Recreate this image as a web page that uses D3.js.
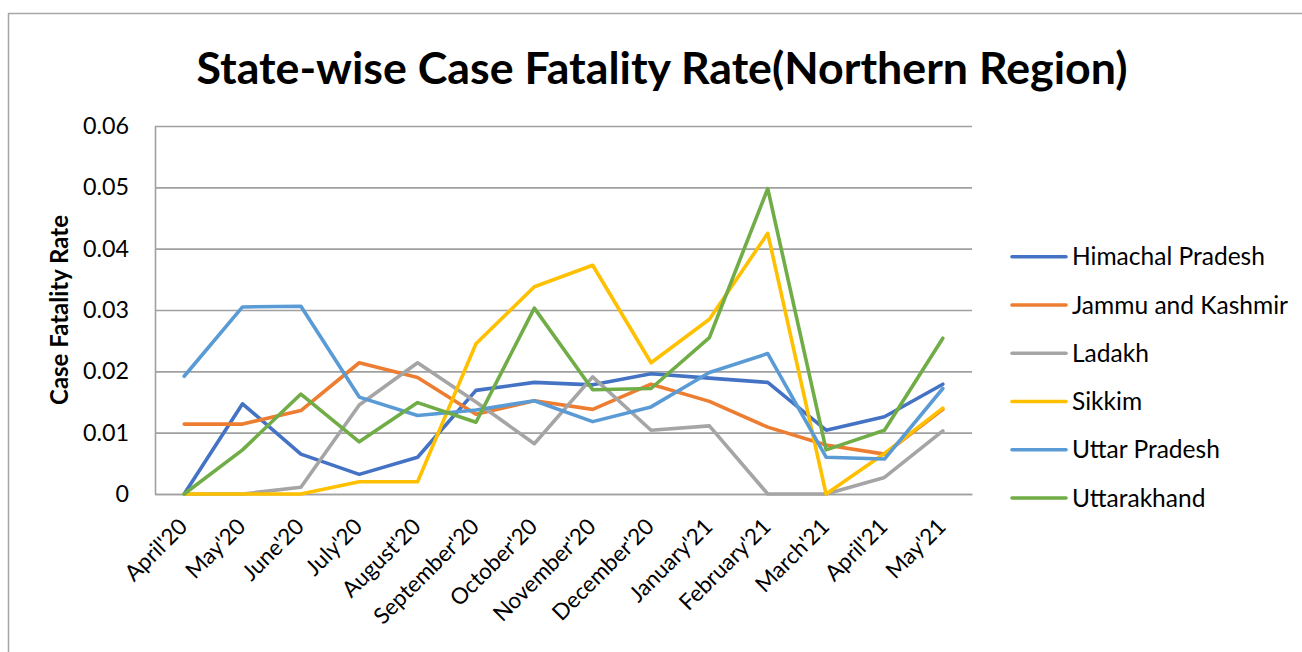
<!DOCTYPE html>
<html>
<head>
<meta charset="utf-8">
<script src="https://cdn.jsdelivr.net/npm/d3@7"></script>
<style>
  html, body { margin: 0; padding: 0; background: #fff; }
  svg { display: block; }
  text { font-family: Lato, "Open Sans", sans-serif; fill: #000; }
</style>
</head>
<body>
<svg id="chart" width="1302" height="652"></svg>
<script>
const months = ["April'20","May'20","June'20","July'20","August'20","September'20","October'20","November'20","December'20","January'21","February'21","March'21","April'21","May'21"];
const seriesNames = ["Himachal Pradesh","Jammu and Kashmir","Ladakh","Sikkim","Uttar Pradesh","Uttarakhand"];
const himachal    = [0, 0.0147, 0.0065, 0.0032, 0.0060, 0.0169, 0.0182, 0.0178, 0.0196, 0.0189, 0.0182, 0.0104, 0.0126, 0.0179];
const jammu       = [0.0114, 0.0114, 0.0136, 0.0214, 0.0190, 0.0130, 0.0152, 0.0138, 0.0179, 0.0151, 0.0109, 0.0080, 0.0065, 0.0138];
const ladakh      = [0, 0, 0.0011, 0.0145, 0.0214, 0.0150, 0.0082, 0.0191, 0.0104, 0.0111, 0, 0, 0.0027, 0.0103];
const sikkim      = [0, 0, 0, 0.0020, 0.0020, 0.0245, 0.0338, 0.0373, 0.0214, 0.0285, 0.0425, 0, 0.0066, 0.0140];
const uttarPr     = [0.0192, 0.0305, 0.0306, 0.0158, 0.0128, 0.0137, 0.0152, 0.0118, 0.0142, 0.0198, 0.0229, 0.0060, 0.0057, 0.0172];
const uttarakhand = [0, 0.0072, 0.0163, 0.0085, 0.0149, 0.0117, 0.0303, 0.0170, 0.0172, 0.0255, 0.0498, 0.0072, 0.0104, 0.0254];
const yTicks = [0, 0.01, 0.02, 0.03, 0.04, 0.05, 0.06];
const colors = ["#4472C4","#ED7D31","#A5A5A5","#FFC000","#5B9BD5","#70AD47"];
const titleText = "State-wise Case Fatality Rate(Northern Region)";
const yLabelText = "Case Fatality Rate";

const seriesValues = [himachal, jammu, ladakh, sikkim, uttarPr, uttarakhand];
const series = seriesNames.map((name, i) => ({ name, color: colors[i], values: seriesValues[i] }));

const svg = d3.select("#chart");
const W = 1302, H = 652;
const plot = { left: 155, right: 972, top: 126, bottom: 494 };

// fit helper: scale font-size so that text reaches a target width
function fitWidth(sel, target) {
  const node = sel.node();
  const fs = parseFloat(sel.attr("font-size"));
  const w = node.getComputedTextLength();
  if (w > 0) sel.attr("font-size", (fs * target / w).toFixed(2));
  return parseFloat(sel.attr("font-size"));
}

// outer chart border
svg.append("rect")
  .attr("x", 8.5).attr("y", 13.5)
  .attr("width", W + 20).attr("height", H + 20)
  .attr("fill", "none").attr("stroke", "#A6A6A6").attr("stroke-width", 1.5);

// title
const title = svg.append("text")
  .attr("x", 662).attr("y", 84)
  .attr("text-anchor", "middle")
  .attr("font-weight", "bold")
  .attr("font-size", 40)
  .text(titleText);
fitWidth(title, 931);

const x = d3.scalePoint().domain(months).range([plot.left, plot.right]).padding(0.5);
const y = d3.scaleLinear().domain([0, 0.06]).range([plot.bottom, plot.top]);

// gridlines
const grid = svg.append("g")
  .attr("transform", `translate(${plot.left},0)`)
  .call(d3.axisLeft(y).tickValues(yTicks).tickSize(-(plot.right - plot.left)).tickFormat(""));
grid.select(".domain").remove();
grid.selectAll(".tick line").attr("stroke", "#A0A0A0").attr("stroke-width", 1.6);

// left axis line + labels
const yAxis = svg.append("g")
  .attr("transform", `translate(${plot.left},0)`)
  .call(d3.axisLeft(y).tickValues(yTicks).tickSize(0).tickPadding(26)
    .tickFormat(d => d === 0 ? "0" : d3.format(".2f")(d)));
yAxis.select(".domain").attr("stroke", "#A0A0A0").attr("stroke-width", 1.6);
yAxis.selectAll("text").attr("font-size", 24).attr("font-family", "Lato, 'Open Sans', sans-serif").attr("fill", "#000");
{
  const t = yAxis.selectAll(".tick text").filter(d => d === 0.06);
  const fs = fitWidth(t, 46);
  yAxis.selectAll(".tick text").attr("font-size", fs);
}

// x axis
const xAxis = svg.append("g")
  .attr("transform", `translate(0,${plot.bottom})`)
  .call(d3.axisBottom(x).tickSize(0));
xAxis.select(".domain").attr("stroke", "#A0A0A0").attr("stroke-width", 1.6);
xAxis.selectAll(".tick text")
  .attr("font-size", 22)
  .attr("font-family", "Lato, 'Open Sans', sans-serif")
  .attr("fill", "#000")
  .attr("text-anchor", "end")
  .attr("y", 0).attr("dy", 0)
  .attr("transform", "translate(4,34) rotate(-45)");
{
  const t = xAxis.selectAll(".tick text").filter(d => d === "September'20");
  const fs = fitWidth(t, 138);
  xAxis.selectAll(".tick text").attr("font-size", fs);
}

// y axis label
const yl = svg.append("text")
  .attr("transform", `translate(68,${(plot.top + plot.bottom) / 2}) rotate(-90)`)
  .attr("text-anchor", "middle")
  .attr("font-weight", "bold")
  .attr("font-size", 20)
  .text(yLabelText);
fitWidth(yl, 190);

// lines
const line = d3.line()
  .x((d, i) => x(months[i]))
  .y(d => y(d));

svg.append("g").selectAll("path")
  .data(series)
  .join("path")
  .attr("d", d => line(d.values))
  .attr("fill", "none")
  .attr("stroke", d => d.color)
  .attr("stroke-width", 3.6)
  .attr("stroke-linejoin", "round")
  .attr("stroke-linecap", "round");

// legend
const legendY = d3.scalePoint().domain(seriesNames).range([256.7, 498]);
const lg = svg.append("g");
const items = lg.selectAll("g").data(series).join("g")
  .attr("transform", d => `translate(0,${legendY(d.name)})`);
items.append("line")
  .attr("x1", 1012).attr("x2", 1066)
  .attr("stroke", d => d.color).attr("stroke-width", 3.6)
  .attr("stroke-linecap", "round");
const ltext = items.append("text")
  .attr("x", 1072).attr("dy", "0.35em")
  .attr("font-size", 24)
  .text(d => d.name);
{
  const t = ltext.filter(d => d.name === "Himachal Pradesh");
  const fs = fitWidth(t, 193);
  ltext.attr("font-size", fs);
}
</script>
</body>
</html>
